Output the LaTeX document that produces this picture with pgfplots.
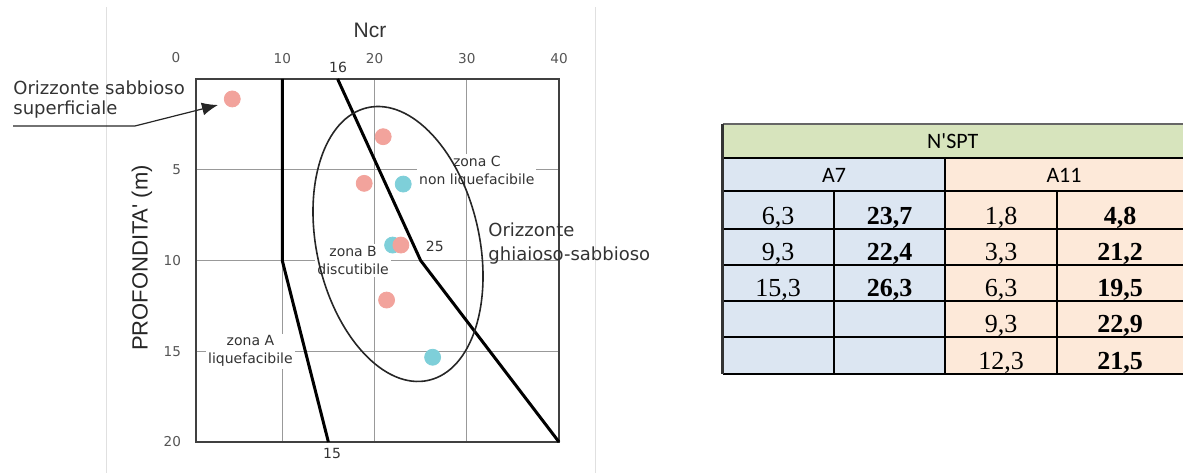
\documentclass[border=0pt]{standalone}
\usepackage{fontspec}
\setmainfont{DejaVu Sans}
\newfontfamily\arialf{Liberation Sans}
\newfontfamily\timesf{Liberation Serif}
\newfontfamily\calf{Carlito}
\usepackage{pgfplots}
\pgfplotsset{compat=1.18}
\usetikzlibrary{arrows.meta}
\definecolor{pinkpt}{HTML}{F2A39C}
\definecolor{bluept}{HTML}{7ECFD9}
\definecolor{hgreen}{HTML}{D7E4BD}
\definecolor{hblue}{HTML}{DCE6F2}
\definecolor{hpeach}{HTML}{FDE9D9}
\definecolor{txt}{HTML}{333333}
\definecolor{ticktxt}{HTML}{555555}
\begin{document}
\begin{tikzpicture}[x=0.5bp,y=0.5bp]
\useasboundingbox (0,0) rectangle (1183,473);
% faint frame lines of the source figure
\draw[black!12, line width=0.5bp] (106,0) -- (106,466);
\draw[black!12, line width=0.5bp] (595,0) -- (595,466);

\begin{axis}[
  at={(188.75bp,106.25bp)}, anchor=center,
  width=181.5bp, height=181.5bp, scale only axis,
  xmin=0.65, xmax=40, ymin=0, ymax=20, y dir=reverse,
  xtick={10,20,30,40}, ytick={5,10,15,20},
  xticklabel pos=upper,
  grid=major, major grid style={color=black!40, line width=0.6bp},
  axis line style={color=black!75, line width=1bp},
  major tick length=0pt,
  tick label style={font=\fontsize{6.8bp}{8bp}\selectfont, text=ticktxt},
  /pgf/number format/assume math mode=true,
  xticklabel style={yshift=4bp},
  yticklabel style={xshift=-4bp},
  clip=false,
]
\node[fill=white, inner sep=1bp, align=center, text=txt,
      font=\fontsize{7bp}{9bp}\selectfont] at (axis cs:31.09,5.10) {zona C\\non liquefacibile};
\node[fill=white, inner sep=1bp, align=center, text=txt,
      font=\fontsize{7bp}{9bp}\selectfont] at (axis cs:17.68,9.99) {zona B\\discutibile};
\node[fill=white, inner sep=1bp, align=center, text=txt,
      font=\fontsize{7bp}{9bp}\selectfont] at (axis cs:6.55,14.99) {zona A\\liquefacibile};
% zone boundaries
\addplot[black, line width=1.5bp, line join=round, no markers] coordinates {(10,0) (10,10) (15,20)};
\addplot[black, line width=1.5bp, line join=round, no markers] coordinates {(16,0) (25,10) (40,20)};
% A7
\addplot[only marks, mark=*, mark size=4bp, color=bluept, mark options={draw=bluept, fill=bluept}]
  coordinates {(23.11,5.79) (21.96,9.15) (26.30,15.33)};
% A11
\addplot[only marks, mark=*, mark size=4bp, color=pinkpt, mark options={draw=pinkpt, fill=pinkpt}]
  coordinates {(4.58,1.10) (20.94,3.18) (18.88,5.75) (22.86,9.15) (21.31,12.18)};
\node[text=txt, font=\fontsize{7bp}{8bp}\selectfont] at (axis cs:26.54,9.2) {25};
\end{axis}

% ellipse "Orizzonte ghiaioso-sabbioso"
\draw[black!85, line width=0.8bp, shift={(398,229)}, rotate=102.6] (0,0) ellipse [x radius=139.7, y radius=81.3];

% extra labels
\node[text=txt, font=\arialf\fontsize{10.5bp}{12bp}\selectfont] at (370,443) {Ncr};
\node[text=ticktxt, font=\fontsize{6.8bp}{8bp}\selectfont] at (176,415) {0};
\node[text=txt, font=\fontsize{7bp}{8bp}\selectfont] at (338,406) {16};
\node[text=txt, font=\fontsize{7bp}{8bp}\selectfont] at (332,19) {15};
\node[text=black!85, rotate=90, font=\arialf\fontsize{11bp}{12bp}\selectfont] at (142,215) {PROFONDITA\textquotesingle\ (m)};

\node[anchor=base west, inner sep=0, text=txt, font=\fontsize{9bp}{11bp}\selectfont] at (13,378) {Orizzonte sabbioso};
\node[anchor=base west, inner sep=0, text=txt, font=\fontsize{9bp}{11bp}\selectfont] at (13,358) {superficiale};
\draw[black!85, line width=0.6bp, -{Latex[length=8bp,width=6.5bp]}] (13,347) -- (135,347) -- (218,368);

\node[anchor=base west, inner sep=0, text=txt, font=\fontsize{9bp}{11bp}\selectfont] at (488,236) {Orizzonte};
\node[anchor=base west, inner sep=0, text=txt, font=\fontsize{9bp}{11bp}\selectfont] at (488,212) {ghiaioso-sabbioso};

% table
\fill[hgreen] (722.5,315) rectangle (1183,349);
\fill[hblue] (722.5,99) rectangle (945,315);
\fill[hpeach] (945,99) rectangle (1183,315);
\draw[black!60, line width=0.8bp] (722.5,349) -- (1183,349);
\foreach \yy in {315,281.5,244,207.5,171.5,135.5,99}
  \draw[black, line width=1bp] (722.5,\yy) -- (1183,\yy);
\draw[black!80, line width=1.2bp] (722.5,349) -- (722.5,99);
\draw[black, line width=1bp] (945,315) -- (945,99);
\draw[black, line width=1bp] (834,281.5) -- (834,99);
\draw[black, line width=1bp] (1057,281.5) -- (1057,99);

\node[font=\calf\fontsize{11bp}{12bp}\selectfont] at (952.75,332) {N\textquotesingle SPT};
\node[font=\calf\fontsize{11bp}{12bp}\selectfont] at (834,298) {A7};
\node[font=\calf\fontsize{11bp}{12bp}\selectfont] at (1064,298) {A11};

\tikzset{tr/.style={anchor=base, inner sep=0, font=\timesf\fontsize{13bp}{14bp}\selectfont},
         tb/.style={anchor=base, inner sep=0, font=\timesf\bfseries\fontsize{13bp}{14bp}\selectfont}}
\node[tr] at (778,248.5) {6,3};   \node[tb] at (889.5,248.5) {23,7};
\node[tr] at (778,212) {9,3};     \node[tb] at (889.5,212) {22,4};
\node[tr] at (778,176) {15,3};    \node[tb] at (889.5,176) {26,3};
\node[tr] at (1001,248.5) {1,8};  \node[tb] at (1120,248.5) {4,8};
\node[tr] at (1001,212) {3,3};    \node[tb] at (1120,212) {21,2};
\node[tr] at (1001,176) {6,3};    \node[tb] at (1120,176) {19,5};
\node[tr] at (1001,140) {9,3};    \node[tb] at (1120,140) {22,9};
\node[tr] at (1001,103.5) {12,3}; \node[tb] at (1120,103.5) {21,5};
\end{tikzpicture}
\end{document}
